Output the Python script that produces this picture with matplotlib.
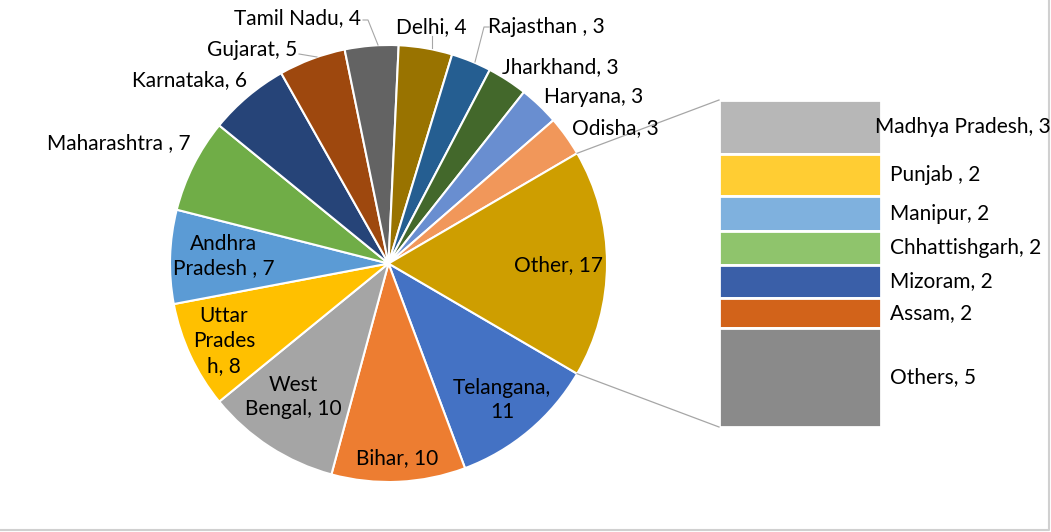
"""Pie-of-bar chart: state shares, with the small states broken out in a stacked bar."""

import math
import matplotlib
matplotlib.use("Agg")
import matplotlib.pyplot as plt

plt.rcParams["font.family"] = ["Lato", "DejaVu Sans"]

# main pie, clockwise from the lower edge of "Other"
pie_labels = ["Telangana,\n11", "Bihar, 10", "West\nBengal, 10", "Uttar\nPrades\nh, 8",
              "Andhra\nPradesh , 7", "Maharashtra , 7", "Karnataka, 6", "Gujarat, 5",
              "Tamil Nadu, 4", "Delhi, 4", "Rajasthan , 3", "Jharkhand, 3",
              "Haryana, 3", "Odisha, 3", "Other, 17"]
pie_values = [11, 10, 10, 8, 7, 7, 6, 5, 4, 4, 3, 3, 3, 3, 17]
pie_colors = ["#4472C4", "#ED7D31", "#A5A5A5", "#FFC000", "#5B9BD5", "#70AD47",
              "#264478", "#9E480E", "#636363", "#997300", "#255E91", "#43682B",
              "#698ED0", "#F1975A", "#CE9E00"]

# secondary bar, top to bottom
sec_labels = ["Madhya Pradesh, 3", "Punjab , 2", "Manipur, 2", "Chhattishgarh, 2",
              "Mizoram, 2", "Assam, 2", "Others, 5"]
sec_share = [2.7, 2.1, 1.75, 1.65, 1.65, 1.5, 4.95]
sec_colors = ["#B7B7B7", "#FFCD33", "#7FB1DE", "#8FC46C", "#3A5FA8", "#D2631A", "#8A8A8A"]

W, H = 1051, 532
# label anchor points in pixel coords (x, y from top)
pie_label_pos = [(502, 400), (397, 458), (293, 397), (224, 341), (224, 256),
                 (119, 143), (190, 80), (252, 50), (297, 18), (431, 27),
                 (546, 27), (560, 67), (594, 97), (615, 128), (558, 265)]
leaders = [[(363, 20), (368, 20), (378, 45)],
           [(299, 54), (317, 57)],
           [(432, 36), (432, 48)],
           [(489, 27), (484, 27), (475, 62)]]

cx, cy, r = 388.5, H - 263.5, 218.5
bar_x0, bar_x1, bar_top, bar_bot = 719, 881, 100, 427

fig = plt.figure(figsize=(W / 100, H / 100), dpi=100)
ax = fig.add_axes([0, 0, 1, 1])

other_angle = pie_values[-1] / sum(pie_values) * 360
ax.pie(pie_values, colors=pie_colors, center=(cx, cy), radius=r,
       counterclock=False, startangle=-other_angle / 2,
       wedgeprops=dict(edgecolor="white", linewidth=1.5))

for lab, (x, y) in zip(pie_labels, pie_label_pos):
    ax.text(x, H - y, lab, ha="center", va="center", fontsize=15,
            color="black", linespacing=1.3)

for pts in leaders:
    ax.plot([p[0] for p in pts], [H - p[1] for p in pts], color="#A6A6A6", lw=0.8)

# stacked bar, drawn from the top down
scale = (bar_bot - bar_top) / sum(sec_share)
top = H - bar_top
for lab, s, c in zip(sec_labels, sec_share, sec_colors):
    h = s * scale
    ax.bar((bar_x0 + bar_x1) / 2, h, bottom=top - h, width=bar_x1 - bar_x0,
           color=c, edgecolor="white", linewidth=2)
    lx = 875 if lab.startswith("Madhya") else 890
    ax.text(lx, top - h / 2, lab, ha="left", va="center", fontsize=15, color="black")
    top -= h

# connector lines from the "Other" slice to the bar
a = math.radians(other_angle / 2)
ax.plot([cx + r * math.cos(a), bar_x0], [cy + r * math.sin(a), H - bar_top],
        color="#A6A6A6", lw=0.9)
ax.plot([cx + r * math.cos(a), bar_x0], [cy - r * math.sin(a), H - bar_bot],
        color="#A6A6A6", lw=0.9)

# chart-area border (only right/bottom visible in the crop)
ax.plot([1048.5, 1048.5, 0], [H, H - 529.5, H - 529.5], color="#D0D0D0", lw=1.5)

ax.set_xlim(0, W)
ax.set_ylim(0, H)
ax.set_aspect("equal")
ax.axis("off")

fig.savefig("out.png", dpi=100)
